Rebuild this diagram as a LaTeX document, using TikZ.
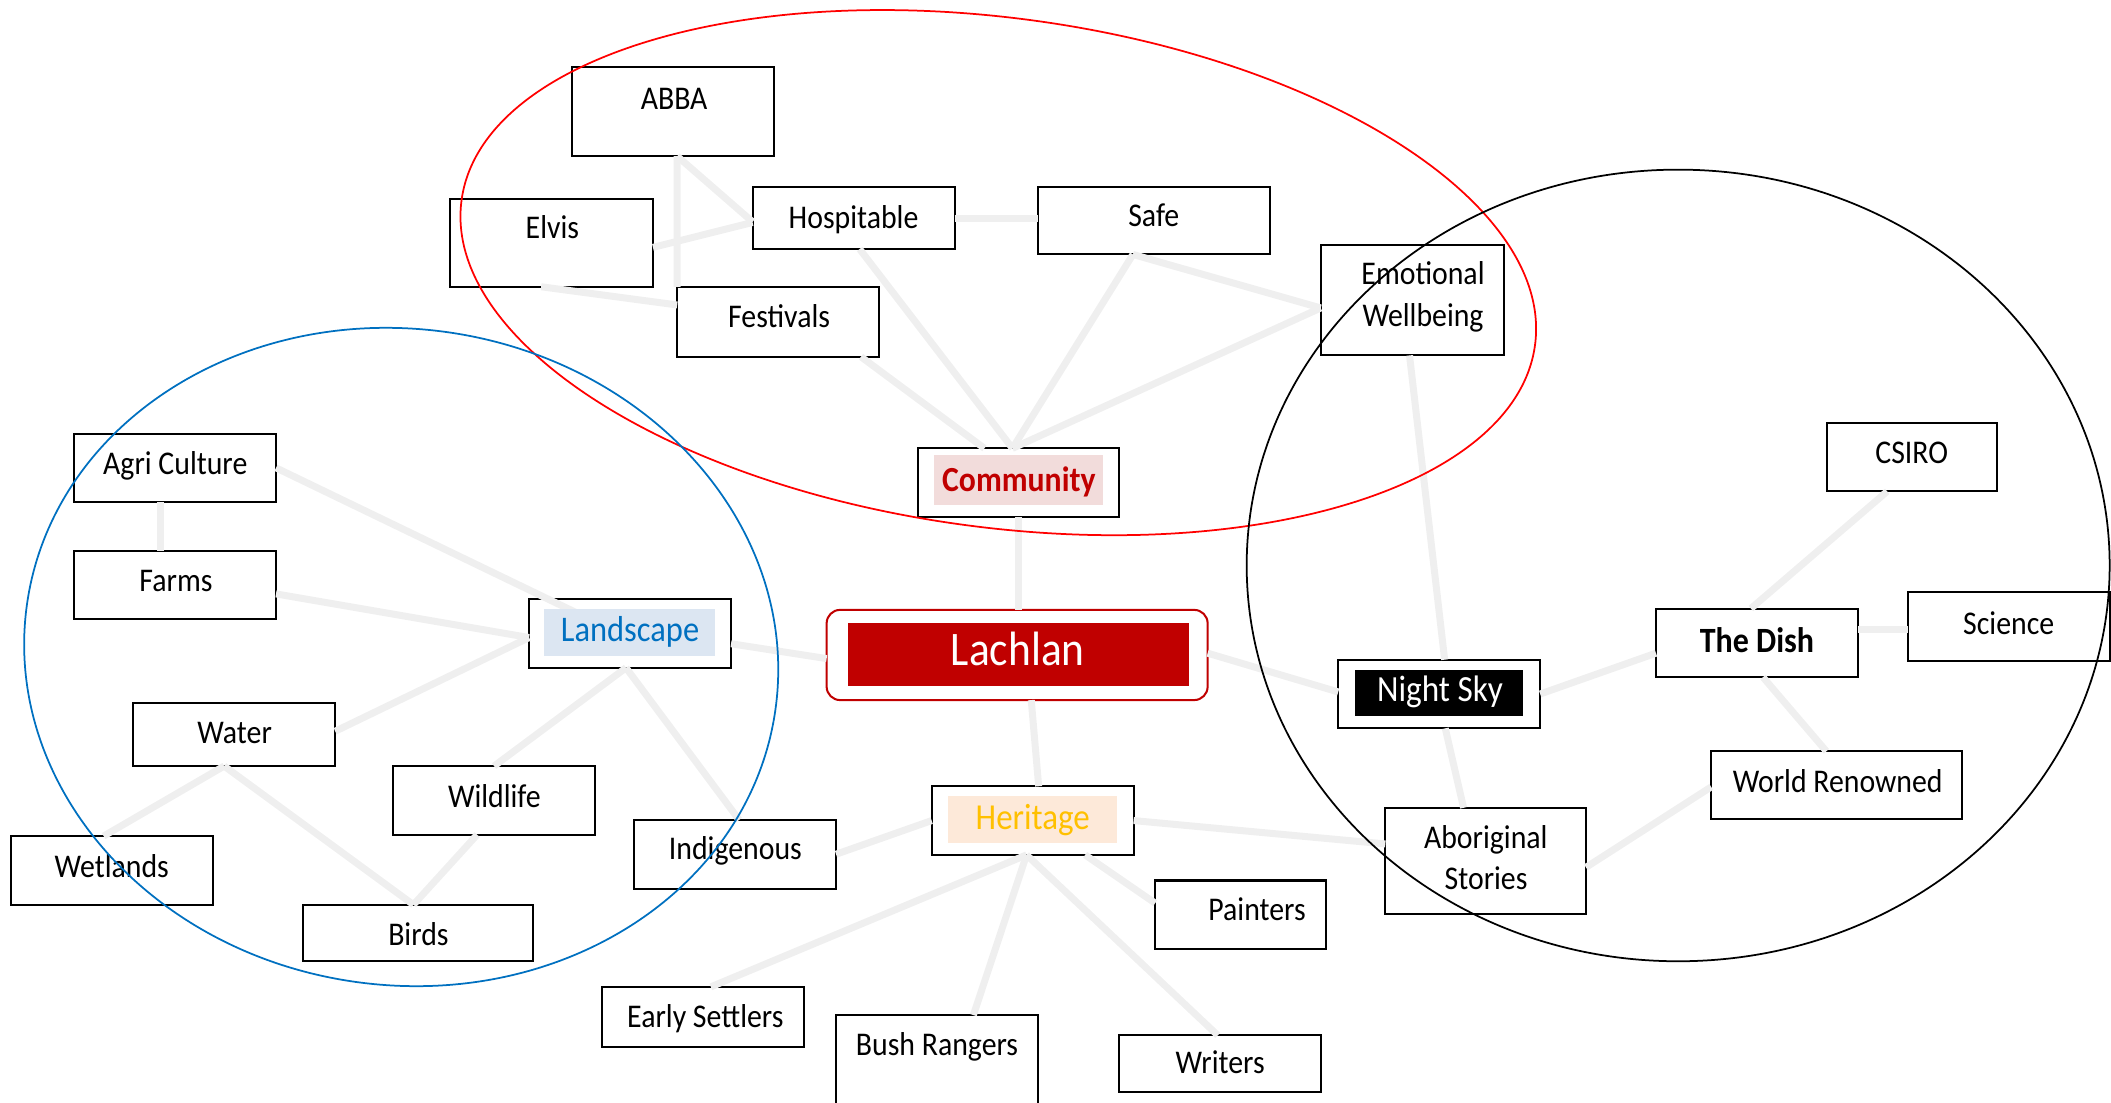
\documentclass[tikz,border=0pt]{standalone}
\usepackage{fontspec}
\setmainfont{Carlito}[FakeStretch=0.9]
\usetikzlibrary{calc,fit}
\definecolor{linkgray}{HTML}{EFEFEF}
\definecolor{commred}{HTML}{C00000}
\definecolor{commpink}{HTML}{F2DCDB}
\definecolor{landblue}{HTML}{0070C0}
\definecolor{landfill}{HTML}{DCE6F2}
\definecolor{heritgold}{HTML}{FFC000}
\definecolor{heritfill}{HTML}{FDE9D9}
\begin{document}
\begin{tikzpicture}[x=0.5pt,y=-0.5pt,
  box/.style={draw=black,line width=0.75pt,fill=white,inner sep=0pt,outer sep=0pt},
  tagbg/.style={inner sep=0pt,outer sep=0pt},
  link/.style={draw=linkgray,line width=2.6pt},
  txt/.style={anchor=base,inner sep=0pt,yshift=-0.75pt,font=\fontsize{12.3}{14}\selectfont},
  tag/.style={anchor=base,inner sep=0pt,yshift=-0.5pt,font=\fontsize{13.4}{15}\selectfont},
  ring/.style={line width=0.65pt}]
\useasboundingbox (0,0) rectangle (1568,819);

% ---------- boxes ----------
\node[box, fit={(425,50) (575,116)}]   (abba)  {};
\node[box, fit={(334,148) (485,213)}]  (elvis) {};
\node[box, fit={(559,139) (709,185)}]  (hosp)  {};
\node[box, fit={(771,139) (943,189)}]  (safe)  {};
\node[box, fit={(503,213) (653,265)}]  (fest)  {};
\node[box, fit={(981,182) (1117,264)}] (emo)   {};
\node[box, fit={(682,333) (831,384)}]  (comm)  {};
\node[box, draw=commred, rounded corners=5pt, fit={(614,453) (897,520)}] (lach) {};
\node[box, fit={(393,445) (543,496)}]  (land)  {};
\node[box, fit={(55,322) (205,373)}]   (agri)  {};
\node[box, fit={(55,409) (205,460)}]   (farms) {};
\node[box, fit={(99,522) (249,569)}]   (water) {};
\node[box, fit={(292,569) (442,620)}]  (wild)  {};
\node[box, fit={(8,621) (158,672)}]    (wet)   {};
\node[box, fit={(225,672) (396,714)}]  (birds) {};
\node[box, fit={(471,609) (621,660)}]  (indig) {};
\node[box, fit={(692,584) (842,635)}]  (herit) {};
\node[box, fit={(858,654) (985,705)}]  (paint) {};
\node[box, fit={(447,733) (597,778)}]  (early) {};
\node[box, fit={(621,754) (771,835)}]  (bush)  {};
\node[box, fit={(831,769) (981,811)}]  (writ)  {};
\node[box, fit={(1029,600) (1178,679)}] (abor) {};
\node[box, fit={(994,490) (1144,541)}] (night) {};
\node[box, fit={(1230,452) (1380,503)}] (dish) {};
\node[box, fit={(1417,440) (1567,491)}] (sci)  {};
\node[box, fit={(1357,314) (1483,365)}] (csiro) {};
\node[box, fit={(1271,558) (1457,608)}] (world) {};

% ---------- connectors ----------
\path ($(abba.south west)!0.52!(abba.south east)$) coordinate (abbaB);
\draw[link] (abbaB) -- (fest.north west);
\draw[link] (abbaB) -- ($(hosp.north west)!0.56!(hosp.south west)$);
\draw[link] ($(elvis.north east)!0.55!(elvis.south east)$) -- ($(hosp.north west)!0.57!(hosp.south west)$);
\draw[link] ($(elvis.south west)!0.45!(elvis.south east)$) -- ($(fest.north west)!0.26!(fest.south west)$);
\draw[link] (hosp.east) -- (hosp.east -| safe.west);
\path ($(comm.north west)!0.47!(comm.north east)$) coordinate (commT);
\draw[link] ($(fest.south west)!0.91!(fest.south east)$) -- ($(comm.north west)!0.33!(comm.north east)$);
\draw[link] ($(hosp.south west)!0.53!(hosp.south east)$) -- (commT);
\path ($(safe.south west)!0.41!(safe.south east)$) coordinate (safeB);
\path ($(emo.north west)!0.57!(emo.south west)$) coordinate (emoL);
\draw[link] (safeB) -- (commT);
\draw[link] (safeB) -- (emoL);
\draw[link] (emoL) -- (commT);
\draw[link] (comm.south) -- (comm.south |- lach.north);
\draw[link] ($(emo.south west)!0.485!(emo.south east)$) -- ($(night.north west)!0.527!(night.north east)$);
\draw[link] ($(lach.north east)!0.48!(lach.south east)$) -- ($(night.north west)!0.47!(night.south west)$);
\draw[link] ($(lach.south west)!0.537!(lach.south east)$) -- ($(herit.north west)!0.53!(herit.north east)$);
\draw[link] ($(lach.north west)!0.54!(lach.south west)$) -- ($(land.north east)!0.65!(land.south east)$);
\draw[link] (agri.east) -- ($(land.north west)!0.32!(land.south east)$);
\path ($(land.north west)!0.56!(land.south west)$) coordinate (landL);
\draw[link] ($(farms.north east)!0.63!(farms.south east)$) -- (landL);
\draw[link] ($(water.north east)!0.45!(water.south east)$) -- (landL);
\path ($(land.south west)!0.48!(land.south east)$) coordinate (landB);
\draw[link] (landB) -- (wild.north);
\draw[link] (landB) -- ($(indig.north west)!0.52!(indig.north east)$);
\path ($(agri.south west)!0.43!(agri.south east)$) coordinate (agriB);
\draw[link] (agriB) -- (agriB |- farms.north);
\path ($(water.south west)!0.45!(water.south east)$) coordinate (waterB);
\draw[link] (waterB) -- ($(wet.north west)!0.46!(wet.north east)$);
\path ($(birds.north west)!0.48!(birds.north east)$) coordinate (birdsT);
\draw[link] (waterB) -- (birdsT);
\draw[link] ($(wild.south west)!0.416!(wild.south east)$) -- (birdsT);
\draw[link] (indig.east) -- (herit.west);
\draw[link] (herit.east) -- ($(abor.north west)!0.34!(abor.south west)$);
\path ($(herit.south west)!0.47!(herit.south east)$) coordinate (heritB);
\draw[link] (heritB) -- ($(early.north west)!0.54!(early.north east)$);
\draw[link] (heritB) -- ($(bush.north west)!0.68!(bush.north east)$);
\draw[link] (heritB) -- ($(writ.north west)!0.49!(writ.north east)$);
\draw[link] ($(herit.south west)!0.76!(herit.south east)$) -- ($(paint.north west)!0.33!(paint.south west)$);
\draw[link] ($(night.south west)!0.53!(night.south east)$) -- ($(abor.north west)!0.39!(abor.north east)$);
\draw[link] (night.east) -- ($(dish.north west)!0.65!(dish.south west)$);
\draw[link] ($(dish.north west)!0.47!(dish.north east)$) -- ($(csiro.south west)!0.355!(csiro.south east)$);
\path ($(dish.north east)!0.3!(dish.south east)$) coordinate (dishR);
\draw[link] (dishR) -- (dishR -| sci.west);
\draw[link] ($(dish.south west)!0.53!(dish.south east)$) -- ($(world.north west)!0.46!(world.north east)$);
\draw[link] ($(abor.north east)!0.56!(abor.south east)$) -- ($(world.north west)!0.53!(world.south west)$);

% ---------- highlighted label panels ----------
\node[tagbg, fill=commpink, fit={(694,338) (819,375)}]  (commbg)  {};
\node[tagbg, fill=commred,  fit={(630,462.5) (883,509.6)}] (lachbg) {};
\node[tagbg, fill=landfill, fit={(404,452) (531,487)}]  (landbg)  {};
\node[tagbg, fill=heritfill, fit={(704,591) (829.5,626)}] (heritbg) {};
\node[tagbg, fill=black,    fit={(1006.5,498) (1131.3,532)}] (nightbg) {};

% ---------- texts ----------
\node[txt] (abbaT)  at (500.7,79.5) {ABBA};
\node[txt] (elvisT) at (410.3,176)  {Elvis};
\node[txt] (hospT)  at (634,168)    {Hospitable};
\node[txt] (safeT)  at (857,167)    {Safe};
\node[txt] (festT)  at (578.7,241.5) {Festivals};
\node[txt] (emoT1)  at (1057,210)   {Emotional};
\node[txt] (emoT2)  at (1057,241)   {Wellbeing};
\node[tag, font=\fontsize{13.1}{15}\selectfont\bfseries, text=commred] (commT) at (756.8,364) {Community};
\node[anchor=base, inner sep=0pt, yshift=-0.5pt, font=\fontsize{17.9}{20}\selectfont, text=white] (lachT) at (756,493) {Lachlan};
\node[tag, text=landblue] (landT) at (468,475.5) {Landscape};
\node[txt] (agriT)  at (130.2,351)  {Agri Culture};
\node[txt] (farmsT) at (130.7,438)  {Farms};
\node[txt] (waterT) at (174.3,551)  {Water};
\node[txt] (wildT)  at (367.2,598.3) {Wildlife};
\node[txt] (wetT)   at (83,650)     {Wetlands};
\node[txt] (birdsT2) at (310.8,701) {Birds};
\node[txt] (indigT) at (546.2,637)  {Indigenous};
\node[tag, font=\fontsize{13.6}{15}\selectfont, text=heritgold] (heritT) at (767.1,615.3) {Heritage};
\node[txt] (paintT) at (933.7,682)  {Painters};
\node[txt] (earlyT) at (523.9,761.4) {Early Settlers};
\node[txt] (bushT)  at (696,782.4)  {Bush Rangers};
\node[txt] (writT)  at (906.3,796)  {Writers};
\node[txt] (aborT1) at (1103.6,628.5) {Aboriginal};
\node[txt] (aborT2) at (1103.8,659) {Stories};
\node[tag, font=\fontsize{13.7}{15}\selectfont, text=white] (nightT) at (1069.6,520) {Night Sky};
\node[tag, font=\fontsize{13.2}{15}\selectfont\bfseries] (dishT) at (1305,484) {The Dish};
\node[txt] (sciT)   at (1492,470)   {Science};
\node[txt] (csiroT) at (1420,343)   {CSIRO};
\node[txt] (worldT) at (1365,587)   {World Renowned};

% ---------- grouping ellipses ----------
\draw[ring, red] (741.5,202.5) coordinate (redc)
  [rotate around={-7.7:(redc)}] ellipse [x radius=402.3, y radius=189.1];
\draw[ring, landblue] (298,488) coordinate (bluec)
  [rotate around={-8:(bluec)}] ellipse [x radius=280.7, y radius=243.7];
\draw[ring, black] (1246.5,420) ellipse [x radius=320.5, y radius=294];
\end{tikzpicture}
\end{document}
